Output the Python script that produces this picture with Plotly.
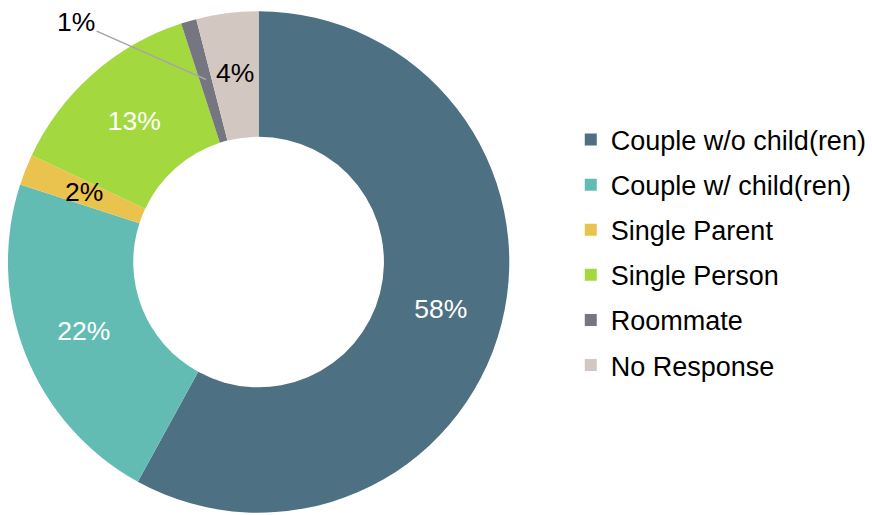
import math
import plotly.graph_objects as go

# household composition
labels = ["Couple w/o child(ren)", "Couple w/ child(ren)", "Single Parent",
          "Single Person", "Roommate", "No Response"]
values = [58, 22, 2, 13, 1, 4]
colors = ["#4E7083", "#63BCB4", "#EAC34F", "#A3D93E", "#767680", "#D3C7C2"]
text_colors = ["white", "white", "black", "white", "black", "black"]
# small slices get their label placed by hand (annotation)
small = ["Single Parent", "Roommate", "No Response"]

FONT = "Liberation Sans, Arial, sans-serif"
W, H = 872, 515

# pie geometry in pixels
CX, CY, R = 261, 262, 253
dom_x = [(CX - R) / W, (CX + R) / W]
dom_y = [max(0, 1 - (CY + R) / H), 1 - (CY - R) / H]

fig = go.Figure()
fig.add_trace(go.Pie(
    labels=labels, values=values, sort=False, direction="clockwise",
    hole=0.5, showlegend=False,
    marker=dict(colors=colors, line=dict(width=0)),
    texttemplate=["" if l in small else "%{percent:.0%}" for l in labels],
    textposition="inside", insidetextorientation="horizontal",
    textfont=dict(family=FONT, size=26.5, color=text_colors),
    domain=dict(x=dom_x, y=dom_y),
))

# legend via dummy traces so the item spacing can be set
for lab, col in zip(labels, colors):
    fig.add_trace(go.Scatter(
        x=[None], y=[None], mode="markers", name=lab, legendgroup=lab,
        marker=dict(symbol="square", size=12, color=col),
    ))

total = sum(values)
cum = 0
for lab, v in zip(labels, values):
    mid = (cum + v / 2) / total * 2 * math.pi
    cum += v
    if lab not in small:
        continue
    px_ = CX + 190 * math.sin(mid)
    py_ = CY - 190 * math.cos(mid)
    pct = f"{round(v / total * 100)}%"
    if lab == "Roommate":
        fig.add_annotation(
            x=px_ / W, y=1 - py_ / H, xref="paper", yref="paper",
            text=pct, showarrow=True, arrowhead=0, arrowwidth=1.5,
            arrowcolor="#A6A6A6", ax=78 - px_, ay=22 - py_,
            font=dict(family=FONT, size=26.5, color="black"),
        )
    else:
        fig.add_annotation(
            x=px_ / W, y=1 - py_ / H, xref="paper", yref="paper",
            text=pct, showarrow=False, xanchor="center", yanchor="middle",
            font=dict(family=FONT, size=26.5, color="black"),
        )

fig.update_layout(
    width=W, height=H,
    margin=dict(l=0, r=0, t=0, b=0),
    paper_bgcolor="white", plot_bgcolor="white",
    font=dict(family=FONT, size=27, color="black"),
    xaxis=dict(visible=False), yaxis=dict(visible=False),
    legend=dict(x=1.009, y=1 - 252.5 / H, xanchor="right", yanchor="middle",
                tracegroupgap=7, font=dict(size=27)),
)

# drop the default body margin so the figure fills the window exactly
fig.write_html("out.html", config={"displayModeBar": False},
               post_script="document.body.style.margin='0';")
